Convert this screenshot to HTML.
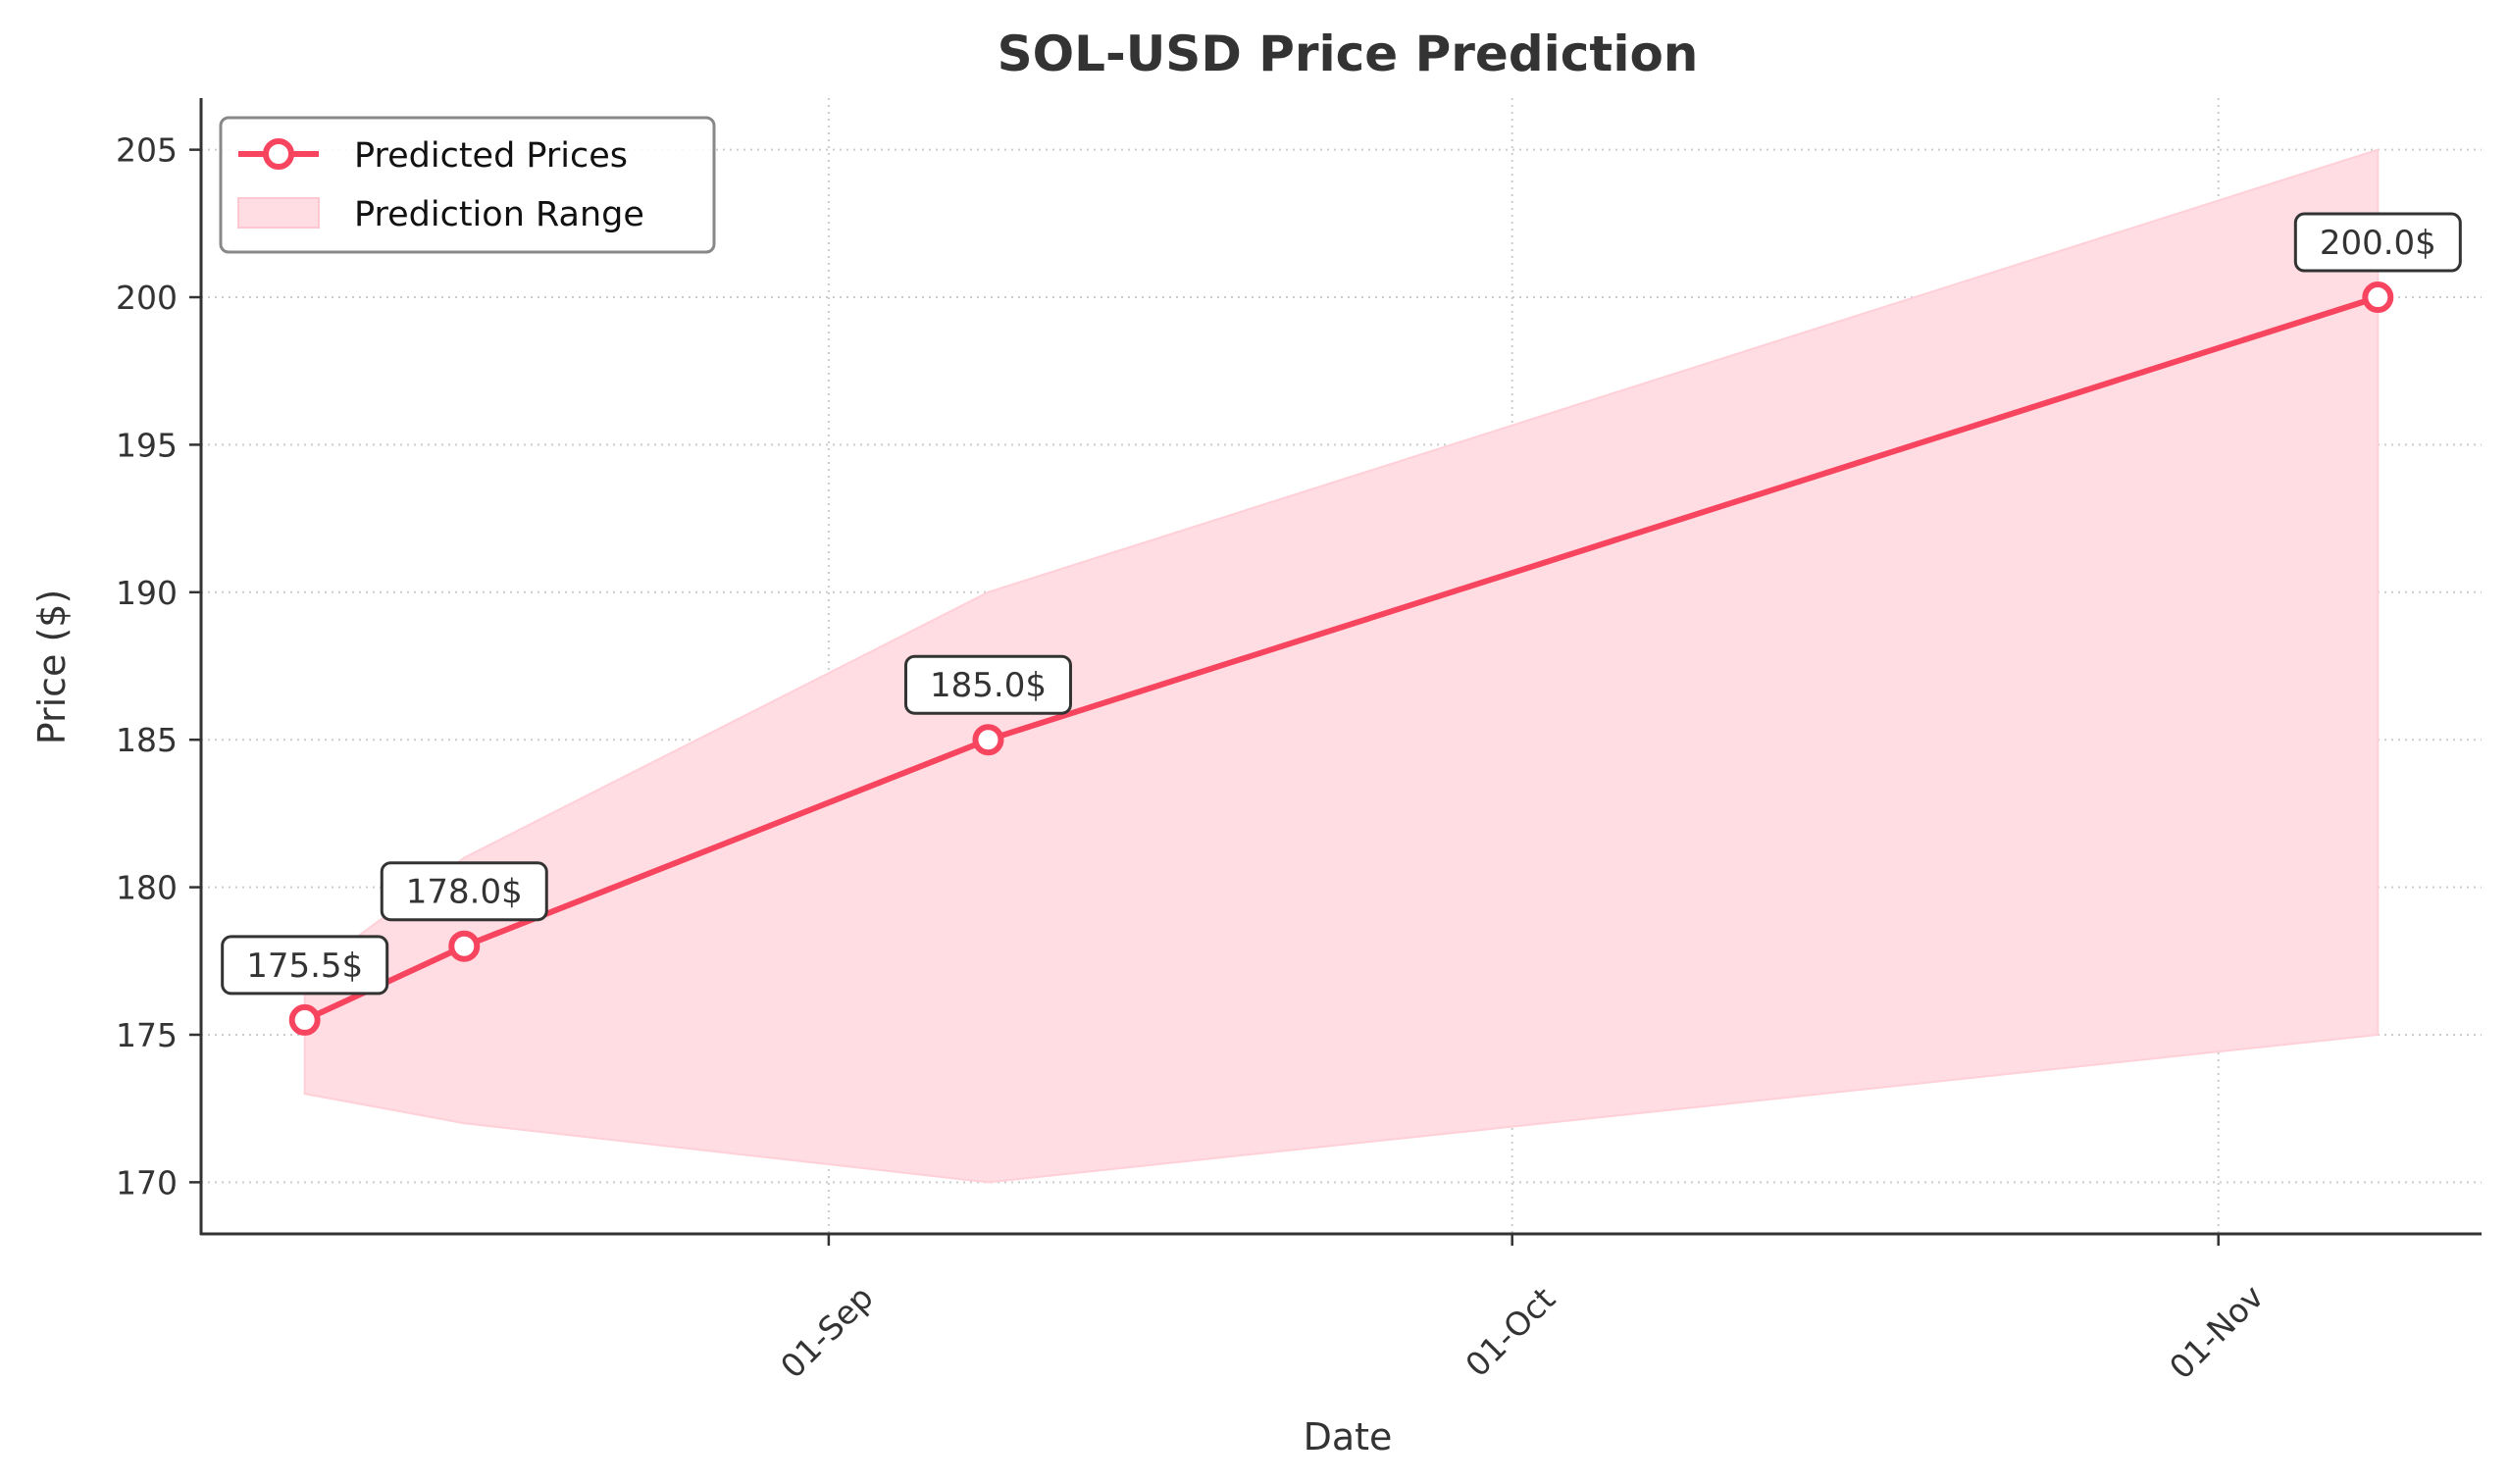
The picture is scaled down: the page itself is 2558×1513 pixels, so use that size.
<!DOCTYPE html>
<html><head><meta charset="utf-8"><style>
html,body{margin:0;padding:0;background:#fff;}
svg{display:block;font-family:"DejaVu Sans","Liberation Sans",sans-serif;}
</style></head><body>
<svg id="chart" width="2558" height="1513" viewBox="0 0 2558 1513" xmlns="http://www.w3.org/2000/svg">
<rect width="2558" height="1513" fill="#fff"/>
<text x="1374" y="72" text-anchor="middle" font-size="50" font-weight="bold" fill="#333">SOL-USD Price Prediction</text>
<g id="grid"></g>
<g id="range"></g>
<g id="series"></g>
<g id="annots"></g>
<g id="axes"></g>
<text x="1374" y="1478" text-anchor="middle" font-size="38" fill="#333">Date</text>
<text x="0" y="0" transform="translate(66,680) rotate(-90)" text-anchor="middle" font-size="38" fill="#333">Price ($)</text>
<g>
<rect x="225" y="120" width="503" height="137" rx="8" fill="#fff" fill-opacity="0.85" stroke="#888" stroke-width="3"/>
<line x1="243" y1="157" x2="325" y2="157" stroke="#f7455f" stroke-width="6"/>
<circle cx="284" cy="157" r="13" fill="#fff" stroke="#f7455f" stroke-width="6"/>
<text x="361" y="170" font-size="35" fill="#111">Predicted Prices</text>
<rect x="243" y="202" width="82" height="30" fill="#ffdde3" stroke="#ffc7d1" stroke-width="2"/>
<text x="361" y="230" font-size="35" fill="#111">Prediction Range</text>
</g>
</svg>
<script>
// data (day offsets relative to 01-Sep)
const days = [-23, -16, 7, 68];
const predicted = [175.5, 178.0, 185.0, 200.0];
const upper = [177, 181, 190, 205];
const lower = [173, 172, 170, 175];
const yTicks = [170, 175, 180, 185, 190, 195, 200, 205];
const xTickDays = [0, 30, 61];
const xTickLabels = ["01-Sep", "01-Oct", "01-Nov"];

const L = 205, R = 2530, T = 100, B = 1258;
const dMin = -23 - 4.55, dMax = 68 + 4.55;
const yMin = 168.25, yMax = 206.75;
const X = d => L + (d - dMin) / (dMax - dMin) * (R - L);
const Y = v => B - (v - yMin) / (yMax - yMin) * (B - T);
const NS = "http://www.w3.org/2000/svg";
function mk(tag, parent, attrs) {
  const e = document.createElementNS(NS, tag);
  for (const k in attrs) e.setAttribute(k, attrs[k]);
  parent.appendChild(e);
  return e;
}
const grid = document.getElementById('grid');
const axes = document.getElementById('axes');
yTicks.forEach(v => {
  const g = mk('line', grid, {x1: L, x2: R, y1: Y(v), y2: Y(v), stroke: '#ccc', 'stroke-width': 2, 'stroke-dasharray': '2,5'});
  
  
  const t = mk('line', axes, {x1: L - 12, x2: L, y1: Y(v), y2: Y(v), stroke: '#333', 'stroke-width': 2.5});
  
  
  const lb = mk('text', axes, {x: L - 24, y: Y(v) + 12, 'text-anchor': 'end', 'font-size': 33, fill: '#333'});
  lb.textContent = v;
  
  
});
xTickDays.forEach((d, i) => {
  const x = X(d);
  const g = mk('line', grid, {x1: x, x2: x, y1: T, y2: B, stroke: '#ccc', 'stroke-width': 2, 'stroke-dasharray': '2,5'});
  
  
  const t = mk('line', axes, {x1: x, x2: x, y1: B, y2: B + 12, stroke: '#333', 'stroke-width': 2.5});
  
  
  const lb = mk('text', axes, {x: 0, y: 0, 'text-anchor': 'middle', 'dominant-baseline': 'central', 'font-size': 33, fill: '#333', transform: `translate(${x - 2},${B + 100}) rotate(-45)`});
  lb.textContent = xTickLabels[i];
  
  
});
const sp1 = mk('line', axes, {x1: L, x2: L, y1: T, y2: B + 1, stroke: '#333', 'stroke-width': 3});


const sp2 = mk('line', axes, {x1: L - 1, x2: R, y1: B, y2: B, stroke: '#333', 'stroke-width': 3});



// range band
let pts = days.map((d, i) => `${X(d)},${Y(upper[i])}`);
for (let i = days.length - 1; i >= 0; i--) pts.push(`${X(days[i])},${Y(lower[i])}`);
const band = mk('polygon', document.getElementById('range'), {points: pts.join(' '), fill: '#ffdde3', stroke: '#ffd0d8', 'stroke-width': 2});



// line + markers
const series = document.getElementById('series');
const pl = mk('polyline', series, {points: days.map((d, i) => `${X(d)},${Y(predicted[i])}`).join(' '), fill: 'none', stroke: '#f7455f', 'stroke-width': 6, 'stroke-linejoin': 'round'});


const ann = document.getElementById('annots');
days.forEach((d, i) => {
  const x = X(d), y = Y(predicted[i]);
  const c = mk('circle', series, {cx: x, cy: y, r: 13, fill: '#fff', stroke: '#f7455f', 'stroke-width': 6});
  
  
  const r = mk('rect', ann, {x: x - 84, y: y - 85, width: 168, height: 58, rx: 9, fill: '#fff', stroke: '#333', 'stroke-width': 3});
  
  
  const t = mk('text', ann, {x: x, y: y - 44, 'text-anchor': 'middle', 'font-size': 34, fill: '#333'});
  t.textContent = predicted[i].toFixed(1) + '$';
  
  
});
</script>
</body></html>
